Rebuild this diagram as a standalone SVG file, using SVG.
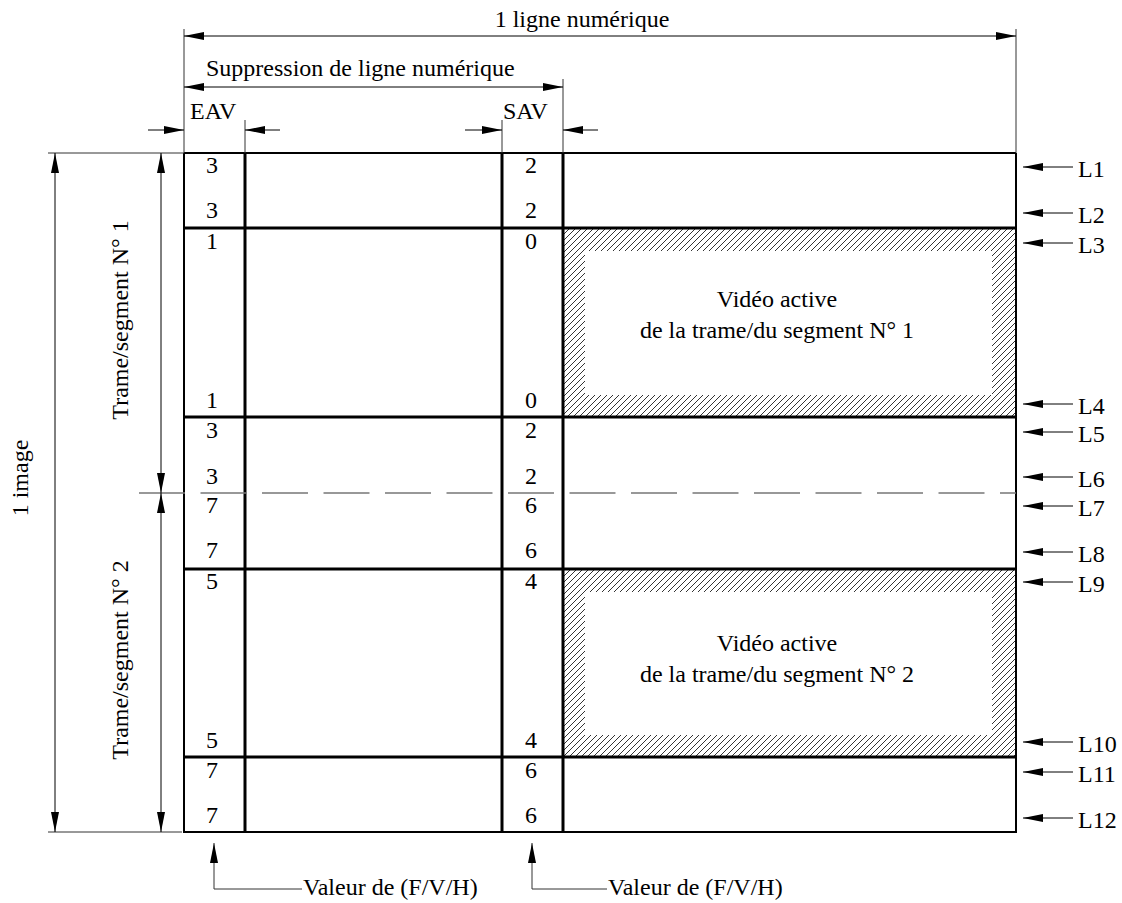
<svg xmlns="http://www.w3.org/2000/svg" width="1122" height="903" viewBox="0 0 1122 903">
<style>
text{font-family:"Liberation Serif","Times New Roman",serif;font-size:24px;fill:#000}
.mid{text-anchor:middle}
.thin{stroke:#000;stroke-width:1;fill:none}
.ext{stroke:#333;stroke-width:1;fill:none}
.med{stroke:#000;stroke-width:2;fill:none}
.thick{stroke:#000;stroke-width:3;fill:none}
.dash{stroke:#777;stroke-width:1.6;fill:none;stroke-dasharray:46 15.5}
</style>
<defs>
<marker id="ah" markerUnits="userSpaceOnUse" markerWidth="20" markerHeight="8" refX="20" refY="4" orient="auto-start-reverse" viewBox="0 0 20 8">
<path d="M0,0 L20,4 L0,8 z" fill="#000"/>
</marker>
<pattern id="hatch" patternUnits="userSpaceOnUse" width="6" height="6">
<path d="M-1,1 L1,-1 M0,6 L6,0 M5,7 L7,5" stroke="#000" stroke-width="0.8"/>
</pattern>
</defs>

<g id="video1">
<rect x="563" y="228" width="453" height="189" fill="url(#hatch)"/>
<rect x="585" y="251" width="407" height="144" fill="#fff"/>
<text class="mid" x="777" y="307">Vidéo active</text>
<text class="mid" x="777" y="338">de la trame/du segment N° 1</text>
</g>
<g id="video2">
<rect x="563" y="569" width="453" height="188" fill="url(#hatch)"/>
<rect x="585" y="592" width="407" height="143" fill="#fff"/>
<text class="mid" x="777" y="651">Vidéo active</text>
<text class="mid" x="777" y="682">de la trame/du segment N° 2</text>
</g>

<g id="grid">
<line class="med" x1="184" y1="153" x2="1016" y2="153"/>
<line class="med" x1="184" y1="832" x2="1016" y2="832"/>
<line class="thick" x1="184" y1="228" x2="1016" y2="228"/>
<line class="thick" x1="184" y1="417" x2="1016" y2="417"/>
<line class="thick" x1="184" y1="569" x2="1016" y2="569"/>
<line class="thick" x1="184" y1="757" x2="1016" y2="757"/>
<line class="med" x1="184" y1="153" x2="184" y2="833"/>
<line class="med" x1="1016" y1="153" x2="1016" y2="833"/>
<line class="thick" x1="245" y1="153" x2="245" y2="833"/>
<line class="thick" x1="502" y1="153" x2="502" y2="833"/>
<line class="thick" x1="563" y1="153" x2="563" y2="833"/>
<line class="dash" x1="139" y1="493" x2="1016" y2="493"/>
</g>

<g id="values">
<text class="mid" x="212" y="173">3</text><text class="mid" x="531" y="173">2</text>
<text class="mid" x="212" y="218">3</text><text class="mid" x="531" y="218">2</text>
<text class="mid" x="212" y="249">1</text><text class="mid" x="531" y="249">0</text>
<text class="mid" x="212" y="408">1</text><text class="mid" x="531" y="408">0</text>
<text class="mid" x="212" y="438">3</text><text class="mid" x="531" y="438">2</text>
<text class="mid" x="212" y="484">3</text><text class="mid" x="531" y="484">2</text>
<text class="mid" x="212" y="513">7</text><text class="mid" x="531" y="513">6</text>
<text class="mid" x="212" y="558">7</text><text class="mid" x="531" y="558">6</text>
<text class="mid" x="212" y="589">5</text><text class="mid" x="531" y="589">4</text>
<text class="mid" x="212" y="748">5</text><text class="mid" x="531" y="748">4</text>
<text class="mid" x="212" y="778">7</text><text class="mid" x="531" y="778">6</text>
<text class="mid" x="212" y="823">7</text><text class="mid" x="531" y="823">6</text>
</g>

<g id="top-dims">
<line class="ext" x1="184" y1="29" x2="184" y2="153"/>
<line class="ext" x1="1016" y1="29" x2="1016" y2="153"/>
<line class="ext" x1="563" y1="79" x2="563" y2="153"/>
<line class="ext" x1="245" y1="120" x2="245" y2="153"/>
<line class="ext" x1="502" y1="120" x2="502" y2="153"/>
<line class="thin" x1="184" y1="36" x2="1016" y2="36" marker-start="url(#ah)" marker-end="url(#ah)"/>
<text class="mid" x="582" y="27">1 ligne numérique</text>
<line class="thin" x1="184" y1="87" x2="563" y2="87" marker-start="url(#ah)" marker-end="url(#ah)"/>
<text x="206" y="76">Suppression de ligne numérique</text>
<text x="190" y="119">EAV</text>
<text x="503" y="119">SAV</text>
<line class="thin" x1="148" y1="130" x2="184" y2="130" marker-end="url(#ah)"/>
<line class="thin" x1="280" y1="130" x2="245" y2="130" marker-end="url(#ah)"/>
<line class="thin" x1="465" y1="130" x2="502" y2="130" marker-end="url(#ah)"/>
<line class="thin" x1="598" y1="130" x2="563" y2="130" marker-end="url(#ah)"/>
</g>

<g id="left-dims">
<line class="ext" x1="48" y1="153" x2="184" y2="153"/>
<line class="ext" x1="48" y1="832" x2="182" y2="832"/>
<line class="thin" x1="55" y1="153" x2="55" y2="832" marker-start="url(#ah)" marker-end="url(#ah)"/>
<line class="thin" x1="161" y1="153" x2="161" y2="493" marker-start="url(#ah)" marker-end="url(#ah)"/>
<line class="thin" x1="161" y1="493" x2="161" y2="832" marker-start="url(#ah)" marker-end="url(#ah)"/>
<text class="mid" transform="translate(28,478) rotate(-90)">1 image</text>
<text class="mid" transform="translate(128,320) rotate(-90)">Trame/segment N° 1</text>
<text class="mid" transform="translate(128,660) rotate(-90)">Trame/segment N° 2</text>
</g>

<g id="line-labels">
<line class="thin" x1="1073" y1="167" x2="1023" y2="167" marker-end="url(#ah)"/><text x="1078" y="177">L1</text>
<line class="thin" x1="1073" y1="213" x2="1023" y2="213" marker-end="url(#ah)"/><text x="1078" y="223">L2</text>
<line class="thin" x1="1073" y1="243" x2="1023" y2="243" marker-end="url(#ah)"/><text x="1078" y="253">L3</text>
<line class="thin" x1="1073" y1="404" x2="1023" y2="404" marker-end="url(#ah)"/><text x="1078" y="414">L4</text>
<line class="thin" x1="1073" y1="432" x2="1023" y2="432" marker-end="url(#ah)"/><text x="1078" y="442">L5</text>
<line class="thin" x1="1073" y1="477" x2="1023" y2="477" marker-end="url(#ah)"/><text x="1078" y="487">L6</text>
<line class="thin" x1="1073" y1="506" x2="1023" y2="506" marker-end="url(#ah)"/><text x="1078" y="516">L7</text>
<line class="thin" x1="1073" y1="552" x2="1023" y2="552" marker-end="url(#ah)"/><text x="1078" y="562">L8</text>
<line class="thin" x1="1073" y1="582" x2="1023" y2="582" marker-end="url(#ah)"/><text x="1078" y="592">L9</text>
<line class="thin" x1="1073" y1="742" x2="1023" y2="742" marker-end="url(#ah)"/><text x="1078" y="752">L10</text>
<line class="thin" x1="1073" y1="772" x2="1023" y2="772" marker-end="url(#ah)"/><text x="1078" y="782">L11</text>
<line class="thin" x1="1073" y1="818" x2="1023" y2="818" marker-end="url(#ah)"/><text x="1078" y="828">L12</text>
</g>

<g id="connectors">
<polyline class="ext" points="302,889 214,889 214,843" marker-end="url(#ah)"/>
<polyline class="ext" points="607,889 532,889 532,843" marker-end="url(#ah)"/>
</g>
<g id="value-labels">
<text x="303" y="895">Valeur de (F/V/H)</text>
<text x="608" y="895">Valeur de (F/V/H)</text>
</g>
</svg>
